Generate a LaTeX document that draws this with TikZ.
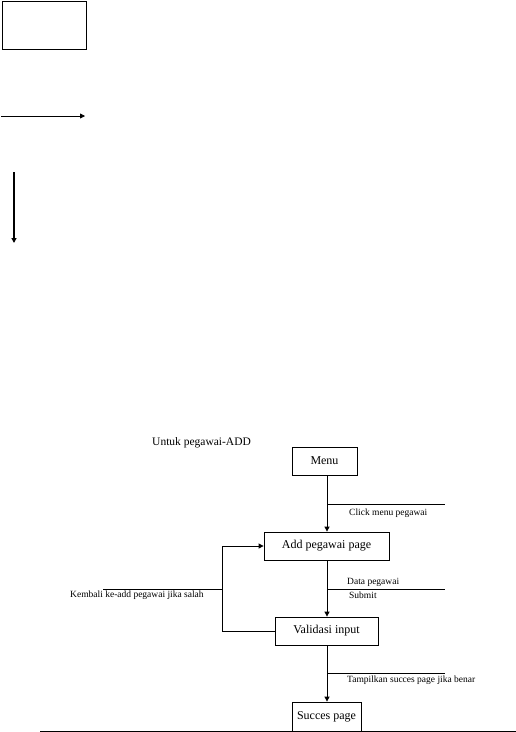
\documentclass[tikz,border=0pt]{standalone}
\usepackage{fontspec}
\setmainfont{Liberation Serif}
\usetikzlibrary{arrows.meta,positioning,calc}

\begin{document}
\begin{tikzpicture}[x=1pt,y=-1pt,
          bx/.style={draw,line width=0.8pt,inner sep=0pt,minimum height=28pt,
                     font=\fontsize{12}{14}\selectfont},
          lb/.style={font=\fontsize{9.5}{11}\selectfont,inner sep=0pt,anchor=west},
          ln/.style={line width=0.8pt},
          ar/.style={-{Triangle[length=5pt,width=5pt]},line width=0.8pt}
        ]
          \useasboundingbox (0,0) rectangle (516,732);

          % legend shapes, top left
          \node(lgbox)[draw,line width=0.8pt,minimum width=84pt,minimum height=48pt,inner sep=0pt] at (44,25) {};
          \coordinate (h1) at (1,116);
          \coordinate (h2) at (85,116);
          \coordinate (v1) at (14,172);
          \coordinate (v2) at (14,243);
          \draw[ar] (h1) -- (h2);
          \draw[ar,line width=1.6pt] (v1) -- (v2);

          % flow
          \node(title)[lb,font=\fontsize{11.5}{13}\selectfont] at (152,443) {Untuk pegawai-ADD};
          \node(menu)[bx,minimum width=65pt] at (324.5,461) {Menu};
          \node(addpg)[bx,minimum width=125pt] at (326.5,546) {Add pegawai page};
          \node(valid)[bx,minimum width=103pt] at (326.5,631) {Validasi input};
          \node(sukses)[bx,minimum width=69pt,minimum height=29pt] at (326.5,716.5) {Succes page};

          \coordinate (spine) at (327,0);
          \coordinate (back) at (222,0);

          \draw[ar] (menu.south -| spine) -- (addpg.north -| spine);
          \draw[ar] (addpg.south -| spine) -- (valid.north -| spine);
          \draw[ar] (valid.south -| spine) -- (sukses.north -| spine);
          \draw[ar] (valid.west) -- (valid.west -| back) |- (addpg.west);

          % label lines
          \coordinate (r1) at (327,504);
          \coordinate (r2) at (327,589);
          \coordinate (r3) at (327,673);
          \coordinate (k1) at (103,589);
          \draw[ln] (r1) -- ++(118,0);
          \draw[ln] (r2) -- ++(118,0);
          \draw[ln] (r3) -- ++(118,0);
          \draw[ln] (k1) -- (k1 -| back);

          \node(lclick)[lb] at (349,513) {Click menu pegawai};
          \node(ldata)[lb] at (347,582) {Data pegawai};
          \node(lsubmit)[lb] at (349,595) {Submit};
          \node(lback)[lb] at (70,595) {Kembali ke-add pegawai jika salah};
          \node(lshow)[lb] at (347,680) {Tampilkan succes page jika benar};

          \coordinate (b1) at (40,731);
          \coordinate (b2) at (516,731);
          \draw[ln] (b1) -- (b2);
        \end{tikzpicture}
\end{document}
